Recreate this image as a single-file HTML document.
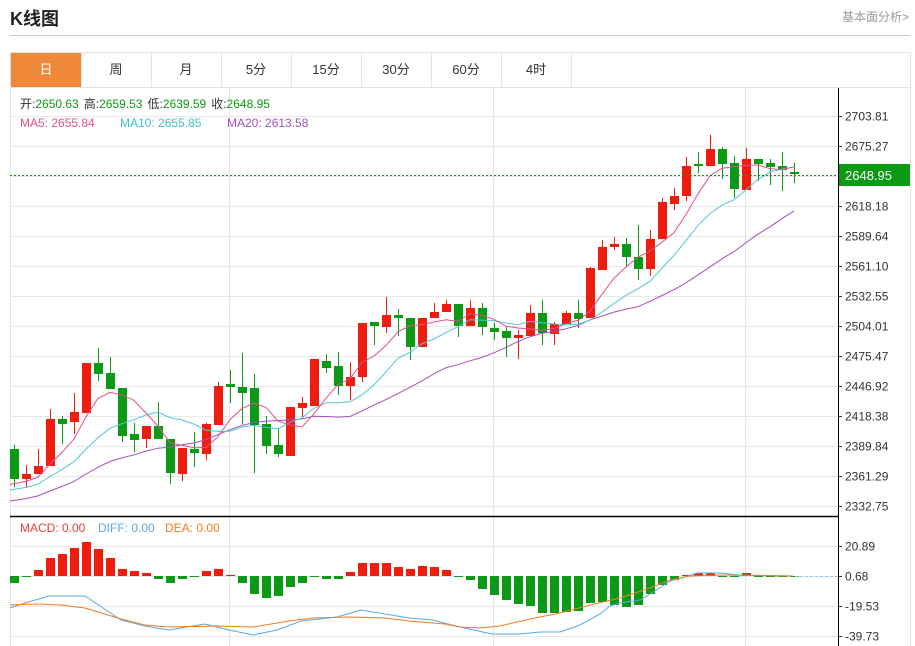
<!DOCTYPE html>
<html><head><meta charset="utf-8">
<style>
html,body{margin:0;padding:0;background:#fff;width:915px;height:646px;overflow:hidden;font-family:"Liberation Sans","Noto Sans CJK SC",sans-serif;}
#t{position:absolute;left:10px;top:5px;font-size:18px;font-weight:bold;color:#222;}
#r{position:absolute;right:6px;top:8px;font-size:12px;color:#999;}
#sep{position:absolute;left:10px;top:35px;width:900px;height:1px;background:#ccc;}
#tabs{position:absolute;left:10px;top:52px;width:899px;height:34px;border:1px solid #e4e4e4;border-bottom:none;}
.tab{position:absolute;top:0;height:34px;width:70px;border-right:1px solid #e4e4e4;text-align:center;line-height:34px;font-size:13px;color:#333;}
svg{position:absolute;left:0;top:0;}
</style></head><body>
<div id="t">K线图</div>
<div id="r">基本面分析&gt;</div>
<div id="sep"></div>
<div id="tabs">
<div class="tab" style="left:0;background:#f0883a;color:#fff;">日</div>
<div class="tab" style="left:70px">周</div>
<div class="tab" style="left:140px">月</div>
<div class="tab" style="left:210px">5分</div>
<div class="tab" style="left:280px">15分</div>
<div class="tab" style="left:350px">30分</div>
<div class="tab" style="left:420px">60分</div>
<div class="tab" style="left:490px">4时</div>
</div>
<svg id="s" width="915" height="646" xmlns="http://www.w3.org/2000/svg"></svg>
<script>
var s=document.getElementById('s');var h='';
function L(x1,y1,x2,y2,c,w,d){h+='<line x1="'+x1+'" y1="'+y1+'" x2="'+x2+'" y2="'+y2+'" stroke="'+c+'" stroke-width="'+(w||1)+'"'+(d?' stroke-dasharray="'+d+'"':'')+'/>';}
function T(x,y,t,c,sz,a){h+='<text x="'+x+'" y="'+y+'" fill="'+c+'" font-size="'+(sz||12)+'" font-family="Liberation Sans, Noto Sans CJK SC, sans-serif"'+(a?' text-anchor="'+a+'"':'')+'>'+t+'</text>';}
// borders
L(10.5,87,10.5,646,'#e4e4e4');L(910.5,87,910.5,646,'#e4e4e4');L(10,87.5,910,87.5,'#e4e4e4');
// grid
var pl=['2703.81','2675.27','2646.72','2618.18','2589.64','2561.10','2532.55','2504.01','2475.47','2446.92','2418.38','2389.84','2361.29','2332.75'];
for(var i=0;i<pl.length;i++){var y=116+i*30+0.5;L(10,y,838,y,'#e8e8e8');if(i!=2){L(838,y,842,y,'#333');T(845,y+4,pl[i],'#333',12);}}
[[546,'20.89'],[576,'0.68'],[606,'-19.53'],[636,'-39.73']].forEach(function(p){L(10,p[0]+.5,838,p[0]+.5,'#e8e8e8');L(838,p[0]+.5,842,p[0]+.5,'#333');T(845,p[0]+4.5,p[1],'#333',12);});
[229,493,745].forEach(function(x){L(x+.5,88,x+.5,646,'#e4e4e4');});
L(10,516.5,838,516.5,'#000',1.5);L(838.5,88,838.5,646,'#000');
// candles: open y, close y, high y, low y
var C=[[449,479,445,487],[479,474,465,488],[474,466,449,474],[466,419,409,466],[419,424,416,444],[422,412,393,434],[413,363,363,413],[363,374,348,381],[373,389,357,389],[388,436,388,442],[434,440,423,452],[439,426,426,448],[426,439,402,439],[439,473,439,484],[474,448,448,481],[449,453,432,467],[454,424,423,460],[425,386,382,425],[384,387,370,403],[387,393,353,424],[388,425,374,473],[424,446,416,454],[445,454,428,457],[456,407,407,456],[408,403,397,417],[406,359,359,406],[361,368,354,373],[366,386,352,395],[386,377,362,400],[377,323,323,382],[322,326,322,345],[327,315,297,333],[315,318,309,336],[318,347,318,360],[347,318,318,347],[318,312,303,318],[312,304,300,312],[304,326,304,337],[326,308,300,326],[308,327,303,335],[328,332,323,340],[331,338,327,357],[338,335,330,359],[336,313,305,336],[313,333,300,345],[334,324,322,345],[324,313,311,324],[313,319,300,328],[318,268,267,318],[270,247,240,270],[247,244,237,250],[244,257,238,267],[257,269,225,280],[269,239,230,276],[239,202,198,239],[204,196,188,210],[196,166,157,201],[164,166,152,173],[166,149,135,166],[149,164,147,179],[163,189,156,198],[190,159,148,190],[159,164,159,181],[163,167,159,185],[166,170,152,191],[172,174,163,183]];
var R='#ee1d10',G='#0b9a15';
var closes=[];for(i=0;i<19;i++)closes.push(522-i*2.2);
C.forEach(function(c,i){var x=14+12*i,col=c[1]<c[0]?R:G;L(x+.5,c[2],x+.5,c[3],col);var t=Math.min(c[0],c[1]),b=Math.max(c[0],c[1]);h+='<rect x="'+(x-4)+'" y="'+t+'" width="9" height="'+Math.max(b-t,1.5)+'" fill="'+col+'"/>';closes.push(c[1]);});
function ma(n,col){var p='';for(var i=0;i<C.length;i++){var k=i+19,sm=0;for(var j=0;j<n;j++)sm+=closes[k-j];var x=(i==0?10:14+12*i);p+=(i?' L':'M')+x+','+(sm/n).toFixed(1);}h+='<path d="'+p+'" fill="none" stroke="'+col+'" stroke-width="1"/>';}
ma(20,'#a24fc0');ma(10,'#4ec9d6');ma(5,'#e0518c');
// price line
L(10,175.5,838,175.5,G,1,'2,2');
h+='<rect x="839" y="164" width="71" height="22" fill="'+G+'"/>';T(845,180,'2648.95','#fff',13);
// macd
var M=[583,577,570,558,554,548,542,549,558,569,571,573,579,583,579,576,571,569,575,583,594,598,596,587,583,576,579,579,572,563,563,563,567,569,566,567,570,577,580,589,595,600,604,606,613,613,612,611,603,602,605,607,605,594,585,580,575,573,573,576,577,573,576,576,576,576];
M.forEach(function(y,i){var x=14+12*i,t=Math.min(y,576),b=Math.max(y,576);if(b-t<1)b=t+1;h+='<rect x="'+(x-4)+'" y="'+t+'" width="9" height="'+(b-t)+'" fill="'+(y<576?R:G)+'"/>';});
L(795,576.5,838,576.5,'#9cc8e8',1,'3,2');
function pl2(a,c){h+='<polyline points="'+a.map(function(p){return p.join(',')}).join(' ')+'" fill="none" stroke="'+c+'" stroke-width="1"/>';}
pl2([[10,608],[25,603],[49,596],[85,596],[121,620],[145,626],[169,630],[205,624],[229,630],[253,635],[277,630],[301,621],[337,617],[361,610],[385,614],[409,618],[433,620],[440,622],[460,627],[492,634],[520,634],[540,632],[560,632],[580,625],[600,614],[610,606],[620,603],[640,600],[655,591],[670,581],[685,577],[697,573],[720,573],[740,575],[793,576]],'#5aa8e6');
pl2([[10,605],[37,604],[61,605],[85,608],[121,619],[145,625],[169,627],[217,626],[253,627],[289,621],[313,618],[349,617],[385,618],[409,621],[445,624],[460,627],[480,628],[500,626],[530,619],[560,613],[590,605],[620,598],[650,588],[670,580],[690,576],[720,575],[793,576]],'#f07d20');
// texts
h+='<text x="20" y="108" font-size="12" font-family="Liberation Sans, Noto Sans CJK SC, sans-serif"><tspan fill="#333">开:</tspan><tspan fill="'+G+'">2650.63</tspan><tspan fill="#333" dx="5">高:</tspan><tspan fill="'+G+'">2659.53</tspan><tspan fill="#333" dx="5">低:</tspan><tspan fill="'+G+'">2639.59</tspan><tspan fill="#333" dx="5">收:</tspan><tspan fill="'+G+'">2648.95</tspan></text>';
T(20,127,'MA5: 2655.84','#e0518c',12);T(120,127,'MA10: 2655.85','#3cc0d0',12);T(227,127,'MA20: 2613.58','#a24fc0',12);
T(20,532,'MACD: 0.00','#e8403a',12);T(98,532,'DIFF: 0.00','#5aa8e6',12);T(165,532,'DEA: 0.00','#f07d20',12);
s.innerHTML=h;
</script>
</body></html>
